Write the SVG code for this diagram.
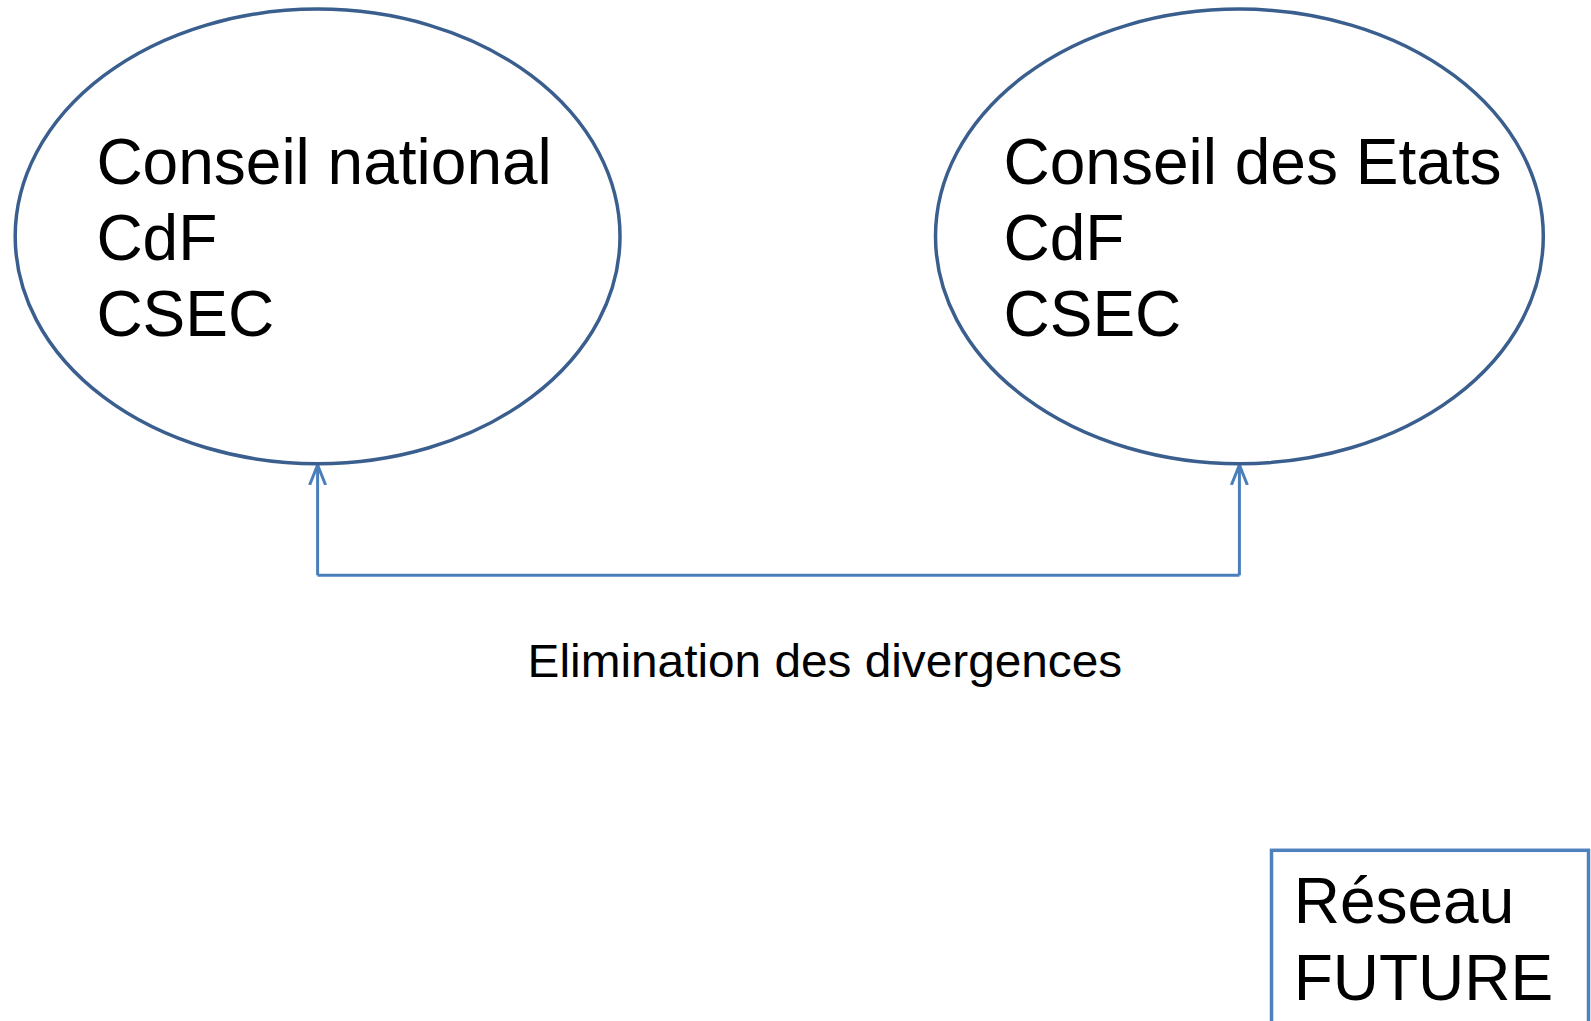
<svg xmlns="http://www.w3.org/2000/svg" width="1591" height="1021" viewBox="0 0 1591 1021">
<style>
.node{fill:#FFFFFF;stroke:#3A5F8E;stroke-width:3.5}
.box{fill:#FFFFFF;stroke:#4F81BD;stroke-width:3.5}
.t{font-family:"Liberation Sans",Arial,sans-serif;font-size:64px;fill:#000000}
.lbl{font-family:"Liberation Sans",Arial,sans-serif;font-size:46px;fill:#000000}
.con{fill:none;stroke:#4A7EBB;stroke-width:3}
</style>
<defs>
<marker id="arr" viewBox="0 0 20 20" refX="20" refY="10" markerWidth="20" markerHeight="20" markerUnits="userSpaceOnUse" orient="auto">
<path d="M0,2 L20,10 L0,18" fill="none" stroke="#4A7EBB" stroke-width="3"/>
</marker>
</defs>
<rect width="1591" height="1021" fill="#FFFFFF"/>
<g id="connectors">
<path class="con" d="M317.6,575.3 L317.6,465"  marker-end="url(#arr)"/>
<path class="con" d="M1239.4,575.3 L1239.4,465" marker-end="url(#arr)"/>
<path class="con" d="M317.6,575.3 L1239.4,575.3"/>
</g>
<g id="conseil-national">
<ellipse class="node" cx="317.6" cy="236.4" rx="302.4" ry="227.3"/>
<text class="t" x="96.4" y="183.7">Conseil national</text>
<text class="t" x="96.4" y="259.8">CdF</text>
<text class="t" x="96.4" y="335.9">CSEC</text>
</g>
<g id="conseil-etats">
<ellipse class="node" cx="1239.4" cy="236.4" rx="303.9" ry="227.3"/>
<text class="t" x="1003.5" y="183.7">Conseil des Etats</text>
<text class="t" x="1003.5" y="259.8">CdF</text>
<text class="t" x="1003.5" y="335.9">CSEC</text>
</g>
<g id="label">
<text class="lbl" x="527.6" y="676.8" textLength="594.6" lengthAdjust="spacingAndGlyphs">Elimination des divergences</text>
</g>
<g id="reseau-future">
<rect class="box" x="1271.5" y="850.3" width="317" height="200"/>
<text class="t" x="1293.7" y="923">Réseau</text>
<text class="t" x="1293.7" y="999.5">FUTURE</text>
</g>
</svg>
